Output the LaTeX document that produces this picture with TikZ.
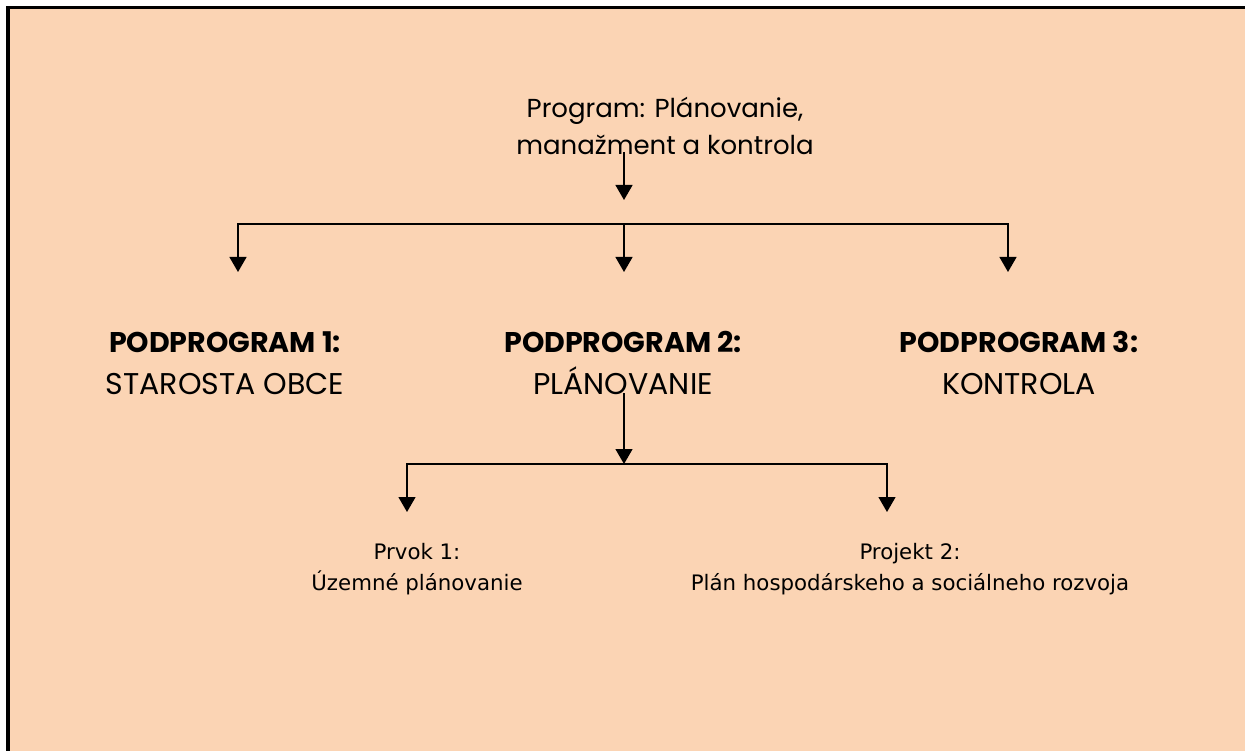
\documentclass[tikz,border=0pt]{standalone}
\usepackage{fontspec}
\usetikzlibrary{arrows.meta}
\newfontfamily\gothic{Poppins}
\newfontfamily\verd{DejaVu Sans}
\newcommand\podfont{\gothic\bfseries\fontsize{28.5}{42}\selectfont}
\definecolor{peach}{HTML}{FBD4B4}
\begin{document}
\begin{tikzpicture}[x=1pt, y=-1pt, line width=1.3pt, >={Triangle[width=17pt,length=15pt]}, ->]
\tikzset{
    progtitle/.style= {font=\gothic\fontsize{26}{37}\selectfont, align=center, inner sep=0pt, anchor=base},
    subhead/.style= {font=\gothic\fontsize{30}{42}\selectfont, align=center, inner sep=0pt, anchor=base},
    leaf/.style= {font=\verd\fontsize{21.3}{31}\selectfont, align=center, inner sep=0pt, anchor=base},
}
\useasboundingbox (0,0) rectangle (1245,751);
\fill[peach] (10,9) rectangle (1245,751);
\fill[black] (6,6) rectangle (10,751);
\fill[black] (6,6) rectangle (1245,9);

\node[progtitle] (prog) at (665,155) {Program: Plánovanie,\\manažment a kontrola};

\node[subhead] (pp1) at (225,394) {{\podfont PODPROGRAM 1:}\\STAROSTA OBCE};
\node[subhead] (pp2) at (623,394) {{\podfont PODPROGRAM 2:}\\PLÁNOVANIE};
\node[subhead] (pp3) at (1019,394) {{\podfont PODPROGRAM 3:}\\KONTROLA};

\node[leaf] (el1) at (417,590) {Prvok 1:\\Územné plánovanie};
\node[leaf] (el2) at (910,590) {Projekt 2:\\Plán hospodárskeho a sociálneho rozvoja};

\coordinate (t0) at (624,152);
\coordinate (t1) at (624,200);
\coordinate (b2) at (624,224);
\coordinate (d1) at (238,272);
\coordinate (d2) at (624,272);
\coordinate (d3) at (1008,272);
\coordinate (s0) at (624,393);
\coordinate (s1) at (624,464);
\coordinate (e1) at (407,512);
\coordinate (e2) at (887,512);

\draw (t0) -- (t1);
\draw (b2) -| (d1);
\draw (b2) -| (d3);
\draw (b2) -- (d2);
\draw (s0) -- (s1);
\draw (s1) -| (e1);
\draw (s1) -| (e2);
\end{tikzpicture}
\end{document}
